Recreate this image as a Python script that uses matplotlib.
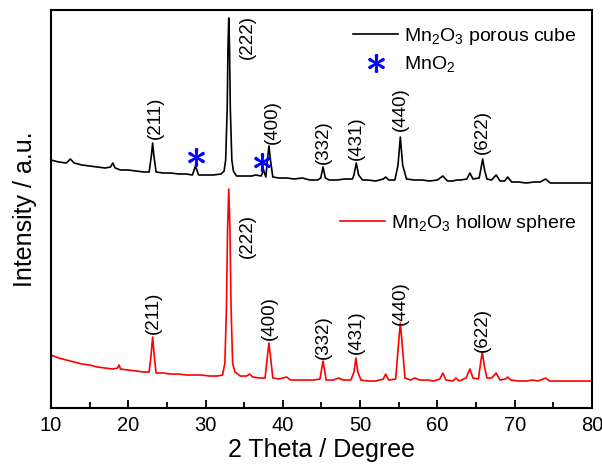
import numpy as np
import matplotlib
matplotlib.use('Agg')
import matplotlib.pyplot as plt
from matplotlib.lines import Line2D

plt.rcParams['font.family'] = ['Liberation Sans', 'DejaVu Sans']
plt.rcParams['mathtext.fontset'] = 'custom'
plt.rcParams['mathtext.rm'] = 'Liberation Sans'
plt.rcParams['mathtext.it'] = 'Liberation Sans:bold'

# porous cube pattern (2theta, intensity a.u.)
cube_tt = [10, 11, 12, 12.5, 13, 14, 15, 16, 17, 17.7, 18.0, 18.3, 19, 20, 21, 22, 22.7,
           23.0, 23.15, 23.3, 23.6, 24.5, 25.5, 26.5, 27.5, 28.3, 28.7, 29.1, 30, 31, 32,
           32.4, 32.6, 32.8, 32.9, 33.0, 33.1, 33.2, 33.4, 33.6, 34, 35, 36, 36.5, 37.2,
           37.5, 37.8, 38.0, 38.2, 38.4, 38.7, 39.5, 40.5, 41.5, 42.5, 43.5, 44.5, 44.9,
           45.2, 45.5, 46, 47, 48, 49, 49.2, 49.5, 49.8, 50.3, 51, 52, 53, 53.3, 53.7, 54.5,
           54.9, 55.2, 55.5, 56, 57, 58, 59, 60, 60.7, 61.3, 62, 62.5, 63, 63.8, 64.2, 64.6,
           65.4, 65.6, 65.85, 66.1, 66.4, 67, 67.6, 68.1, 68.7, 69.1, 69.6, 70.5, 71.5,
           72.5, 73.3, 74.0, 74.6, 75.5, 77, 78.5, 80]
cube_int = [248, 246, 245, 249, 245, 243, 242, 241, 240, 241, 245, 240, 238, 238, 237, 236, 236,
            253, 265, 253, 236, 235, 235, 234, 234, 233, 242, 233, 233, 233, 234,
            237, 248, 300, 360, 390, 360, 300, 248, 237, 232, 232, 232, 233, 232,
            238, 231, 248, 262, 248, 231, 230, 230, 229, 230, 228, 228, 230,
            241, 230, 228, 228, 229, 229, 233, 245, 233, 228, 228, 227, 229, 231, 228, 228,
            243, 271, 243, 229, 228, 228, 227, 228, 232, 227, 227, 228, 228, 229, 235, 229,
            230, 238, 249, 238, 229, 228, 233, 227, 227, 231, 226, 226, 225,
            226, 226, 229, 225, 225, 225, 225, 225]

# hollow sphere pattern
sph_tt = [10, 11, 12, 13, 14, 15, 16, 17, 18, 18.6, 18.8, 19.0, 20, 21, 22, 22.7,
          22.95, 23.15, 23.35, 23.6, 24.5, 25.5, 26.5, 27.5, 28.5, 29.5, 30.5, 31.5, 32.2,
          32.5, 32.7, 32.85, 33.0, 33.15, 33.3, 33.5, 33.8, 34.5, 35.3, 35.7, 36.1, 37, 37.7,
          37.95, 38.2, 38.45, 38.7, 39.5, 40.5, 41, 42, 43, 44, 44.8, 45.0, 45.2, 45.4, 45.6,
          46.5, 47.2, 47.8, 48.8, 49.2, 49.45, 49.7, 50.1, 51, 52, 53, 53.3, 53.7, 54.6,
          54.95, 55.2, 55.45, 55.8, 56.5, 57.1, 57.7, 58.8, 59.5, 60.3, 60.7, 61.1, 62, 62.4,
          62.8, 63.7, 64.2, 64.6, 65.3, 65.55, 65.8, 66.05, 66.4, 67.0, 67.6, 68.1, 68.8,
          69.1, 69.5, 70.5, 71.5, 72.3, 73, 74.0, 74.5, 75.5, 77, 78.5, 80]
sph_int = [53, 50, 48, 46, 44, 43, 41, 40, 39, 40, 43, 39, 38, 37, 36, 36,
           53, 71, 53, 35, 35, 34, 34, 33, 33, 33, 32, 32, 33,
           45, 100, 180, 219, 180, 100, 45, 36, 32, 32, 34, 31, 30, 30,
           48, 65, 48, 30, 29, 31, 28, 28, 28, 28, 29, 38, 47, 38, 28,
           28, 30, 28, 28, 36, 50, 36, 28, 27, 27, 29, 34, 28, 29,
           63, 85, 63, 30, 28, 30, 28, 28, 27, 29, 35, 28, 27, 30,
           27, 30, 39, 30, 29, 43, 56, 43, 30, 30, 35, 28, 29,
           31, 28, 27, 27, 28, 27, 30, 27, 27, 27, 27, 27]

# MnO2 impurity marks
star_tt = [28.7, 37.3]
star_int = [251, 246]

# hkl labels: position (2theta), label centre height
hkl = ['(211)', '(222)', '(400)', '(332)', '(431)', '(440)', '(622)']
hkl_tt_cube = [23.45, 35.35, 38.6, 45.2, 49.5, 55.15, 65.85]
hkl_y_cube = [290, 371, 286, 266, 270, 299, 276]
hkl_tt_sph = [23.2, 35.35, 38.3, 45.2, 49.5, 55.15, 65.85]
hkl_y_sph = [95, 172, 90, 71, 76, 105, 78]

star = r'$\ast$'

fig = plt.figure(figsize=(6.02, 4.69), dpi=100)
ax = fig.add_axes([0.0847, 0.130, 0.8987, 0.8487])

ax.plot(cube_tt, cube_int, color='black', lw=1.2)
ax.plot(sph_tt, sph_int, color='#ff0000', lw=1.2)
ax.plot(star_tt, star_int, ls='none', marker=star, ms=13, mew=0.8, color='#0000ff')

for lab, x, y in zip(hkl, hkl_tt_cube, hkl_y_cube):
    ax.text(x, y, lab, rotation=90, ha='center', va='center', fontsize=13.5)
for lab, x, y in zip(hkl, hkl_tt_sph, hkl_y_sph):
    ax.text(x, y, lab, rotation=90, ha='center', va='center', fontsize=13.5)

ax.set_xlim(10, 80)
ax.set_ylim(0, 398)
ax.set_yticks([])
ax.set_xticks(np.arange(10, 81, 10))
ax.set_xticks(np.arange(15, 80, 10), minor=True)
ax.tick_params(axis='x', which='major', direction='in', length=6, width=1.3, labelsize=14.5, pad=6)
ax.tick_params(axis='x', which='minor', direction='in', length=4, width=1.3)
for s in ax.spines.values():
    s.set_linewidth(1.5)

ax.set_xlabel('2 Theta / Degree', fontsize=18, labelpad=2)
ax.set_ylabel('Intensity / a.u.', fontsize=18, labelpad=10)

h1 = [Line2D([], [], color='black', lw=1.2),
      Line2D([], [], ls='none', marker=star, ms=13, mew=0.8, color='#0000ff')]
leg1 = ax.legend(h1, ['Mn$_2$O$_3$ porous cube', 'MnO$_2$'], loc='upper right',
                 bbox_to_anchor=(1.0, 1.0), frameon=False, fontsize=14,
                 handlelength=2.3, handletextpad=0.3, borderpad=0.3, labelspacing=0.4)
ax.add_artist(leg1)
h2 = [Line2D([], [], color='#ff0000', lw=1.2)]
ax.legend(h2, ['Mn$_2$O$_3$ hollow sphere'], loc='upper right',
          bbox_to_anchor=(1.0, 0.53), frameon=False, fontsize=14,
          handlelength=2.3, handletextpad=0.3, borderpad=0.3)

fig.savefig('out.png', dpi=100)
